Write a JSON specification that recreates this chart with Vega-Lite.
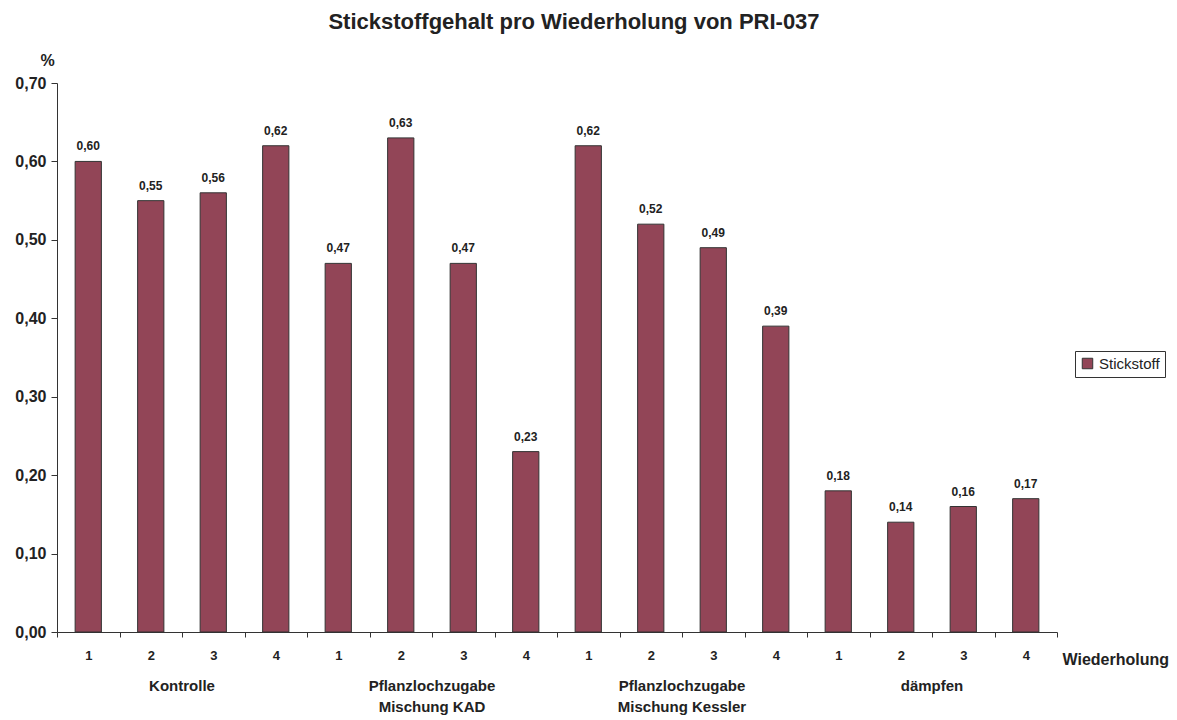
{
  "$schema": "https://vega.github.io/schema/vega-lite/v6.json",
  "width": 1000,
  "height": 549,
  "autosize": {"type": "none"},
  "padding": {"left": 57, "top": 83, "right": 120, "bottom": 88},
  "background": "white",
  "config": {
    "locale": {"number": {"decimal": ",", "thousands": ".", "grouping": [3], "currency": ["", " €"]}},
    "font": "Liberation Sans",
    "view": {"stroke": null},
    "axis": {"labelFont": "Liberation Sans", "titleFont": "Liberation Sans", "labelColor": "#222", "titleColor": "#222", "domainColor": "#333", "tickColor": "#333"}
  },
  "title": {
    "text": "Stickstoffgehalt pro Wiederholung von PRI-037",
    "font": "Liberation Sans",
    "fontSize": 22,
    "fontWeight": "bold",
    "color": "#222",
    "anchor": "middle",
    "dx": 17,
    "offset": 18
  },
  "datasets": {
    "bars": [
      {"key": "Kontrolle|1", "gruppe": "Kontrolle", "wdh": 1, "Stickstoff": 0.60, "serie": "Stickstoff"},
      {"key": "Kontrolle|2", "gruppe": "Kontrolle", "wdh": 2, "Stickstoff": 0.55, "serie": "Stickstoff"},
      {"key": "Kontrolle|3", "gruppe": "Kontrolle", "wdh": 3, "Stickstoff": 0.56, "serie": "Stickstoff"},
      {"key": "Kontrolle|4", "gruppe": "Kontrolle", "wdh": 4, "Stickstoff": 0.62, "serie": "Stickstoff"},
      {"key": "KAD|1", "gruppe": "Pflanzlochzugabe Mischung KAD", "wdh": 1, "Stickstoff": 0.47, "serie": "Stickstoff"},
      {"key": "KAD|2", "gruppe": "Pflanzlochzugabe Mischung KAD", "wdh": 2, "Stickstoff": 0.63, "serie": "Stickstoff"},
      {"key": "KAD|3", "gruppe": "Pflanzlochzugabe Mischung KAD", "wdh": 3, "Stickstoff": 0.47, "serie": "Stickstoff"},
      {"key": "KAD|4", "gruppe": "Pflanzlochzugabe Mischung KAD", "wdh": 4, "Stickstoff": 0.23, "serie": "Stickstoff"},
      {"key": "Kessler|1", "gruppe": "Pflanzlochzugabe Mischung Kessler", "wdh": 1, "Stickstoff": 0.62, "serie": "Stickstoff"},
      {"key": "Kessler|2", "gruppe": "Pflanzlochzugabe Mischung Kessler", "wdh": 2, "Stickstoff": 0.52, "serie": "Stickstoff"},
      {"key": "Kessler|3", "gruppe": "Pflanzlochzugabe Mischung Kessler", "wdh": 3, "Stickstoff": 0.49, "serie": "Stickstoff"},
      {"key": "Kessler|4", "gruppe": "Pflanzlochzugabe Mischung Kessler", "wdh": 4, "Stickstoff": 0.39, "serie": "Stickstoff"},
      {"key": "dämpfen|1", "gruppe": "dämpfen", "wdh": 1, "Stickstoff": 0.18, "serie": "Stickstoff"},
      {"key": "dämpfen|2", "gruppe": "dämpfen", "wdh": 2, "Stickstoff": 0.14, "serie": "Stickstoff"},
      {"key": "dämpfen|3", "gruppe": "dämpfen", "wdh": 3, "Stickstoff": 0.16, "serie": "Stickstoff"},
      {"key": "dämpfen|4", "gruppe": "dämpfen", "wdh": 4, "Stickstoff": 0.17, "serie": "Stickstoff"}
    ],
    "groups": [
      {"key": "Kontrolle|2", "label": "Kontrolle", "y": 0},
      {"key": "KAD|2", "label": "Pflanzlochzugabe\nMischung KAD", "y": 0},
      {"key": "Kessler|2", "label": "Pflanzlochzugabe\nMischung Kessler", "y": 0},
      {"key": "dämpfen|2", "label": "dämpfen", "y": 0}
    ]
  },
  "layer": [
    {
      "data": {"name": "bars"},
      "mark": {"type": "bar", "width": {"band": 0.42}, "stroke": "#333", "strokeWidth": 1},
      "encoding": {
        "x": {
          "field": "key", "type": "nominal", "sort": null,
          "scale": {"paddingInner": 0, "paddingOuter": 0},
          "axis": {
            "title": "Wiederholung",
            "titleFontSize": 16, "titleFontWeight": "bold",
            "titleAlign": "left", "titleBaseline": "middle", "titleAnchor": "start",
            "titleX": 1005, "titleY": 27,
            "labelExpr": "split(datum.label,'|')[1]",
            "labelAngle": 0, "labelFontSize": 13, "labelFontWeight": "bold", "labelPadding": 12,
            "tickBand": "extent", "tickSize": 5, "domainColor": "#333"
          }
        },
        "y": {
          "field": "Stickstoff", "type": "quantitative",
          "scale": {"domain": [0, 0.7], "nice": false},
          "axis": {
            "title": "%", "titleAngle": 0, "titleFontSize": 16, "titleFontWeight": "bold",
            "titleAlign": "center", "titleBaseline": "middle", "titleX": -10, "titleY": -23,
            "values": [0, 0.1, 0.2, 0.3, 0.4, 0.5, 0.6, 0.7],
            "format": ".2f", "labelFontSize": 16, "labelFontWeight": "bold", "labelPadding": 5,
            "grid": false, "tickSize": 6
          }
        },
        "fill": {
          "field": "serie", "type": "nominal",
          "scale": {"range": ["#924557"]},
          "legend": {
            "title": null, "orient": "none", "legendX": 1018, "legendY": 268,
            "strokeColor": "#333", "padding": 5, "fillColor": "white",
            "symbolType": "square", "symbolSize": 110, "symbolStrokeColor": "#333", "symbolStrokeWidth": 1,
            "labelFont": "Liberation Sans", "labelFontSize": 15, "labelColor": "#222", "labelOffset": 4
          }
        }
      }
    },
    {
      "data": {"name": "bars"},
      "mark": {"type": "text", "baseline": "bottom", "dy": -8, "fontSize": 12, "fontWeight": "bold", "color": "#222", "font": "Liberation Sans"},
      "encoding": {
        "x": {"field": "key", "type": "nominal", "sort": null},
        "y": {"field": "Stickstoff", "type": "quantitative"},
        "text": {"field": "Stickstoff", "type": "quantitative", "format": ".2f"}
      }
    },
    {
      "data": {"name": "groups"},
      "mark": {"type": "text", "baseline": "top", "align": "center", "dy": 47, "fontSize": 15, "fontWeight": "bold", "color": "#222", "font": "Liberation Sans", "lineBreak": "\n", "lineHeight": 21},
      "encoding": {
        "x": {"field": "key", "type": "nominal", "sort": null, "bandPosition": 1},
        "y": {"field": "y", "type": "quantitative"},
        "text": {"field": "label"}
      }
    }
  ]
}
